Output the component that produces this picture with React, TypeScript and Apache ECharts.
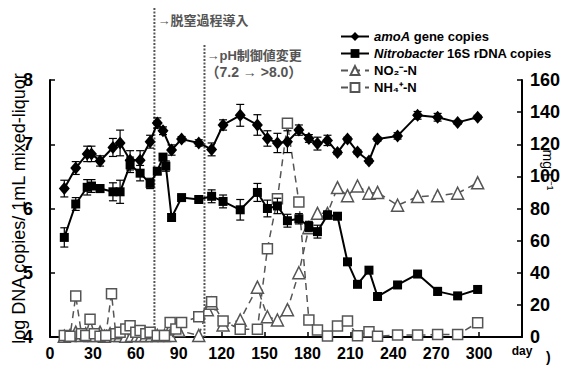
import React, { useEffect, useRef } from 'react';
import * as echarts from 'echarts';

const FONT = '"Liberation Sans", Arial, "Noto Sans CJK JP", sans-serif';

// DNA copies (log scale, left axis)
const amoADays = [10, 18, 26, 29, 35, 44, 49, 56, 63, 70, 75, 79, 85, 92, 104, 113, 121, 133, 145, 152, 159, 166, 174, 181, 187, 194, 201, 208, 215, 223, 229, 243, 257, 271, 285, 299];
const amoAValues = [6.31, 6.63, 6.85, 6.85, 6.74, 6.95, 7.02, 6.75, 6.75, 7.04, 7.33, 7.21, 6.91, 7.08, 7.02, 6.92, 7.30, 7.45, 7.30, 7.09, 7.02, 7.04, 7.22, 7.09, 7.01, 7.06, 6.87, 7.08, 6.88, 6.74, 7.08, 7.13, 7.45, 7.42, 7.34, 7.42];
const amoAErrors = [0.13, 0.1, 0.12, 0.12, 0.08, 0.14, 0.2, 0.15, 0.15, 0.1, 0.08, 0.06, 0.08, 0.04, 0.05, 0.1, 0.08, 0.17, 0.16, 0.12, 0.15, 0.17, 0.08, 0.06, 0.1, 0.08, 0.03, 0.03, 0.03, 0.03, 0.03, 0.05, 0.06, 0.06, 0.03, 0.03];

const nitroDays = [10, 18, 26, 29, 35, 44, 49, 56, 63, 70, 75, 79, 81, 85, 92, 104, 113, 121, 133, 145, 152, 159, 166, 174, 181, 187, 194, 201, 208, 215, 223, 229, 243, 257, 271, 285, 299];
const nitroValues = [5.55, 6.07, 6.33, 6.35, 6.31, 6.26, 6.26, 6.68, 6.55, 6.39, 6.58, 6.80, 6.66, 5.86, 6.17, 6.14, 6.19, 6.11, 5.98, 6.25, 6.0, 6.04, 5.81, 5.84, 5.72, 5.64, 5.90, 5.88, 5.17, 4.82, 5.04, 4.63, 4.81, 4.98, 4.71, 4.64, 4.74];
const nitroErrors = [0.15, 0.1, 0.12, 0.1, 0.06, 0.14, 0.18, 0.12, 0.12, 0.08, 0.05, 0.04, 0.08, 0.06, 0.03, 0.04, 0.1, 0.1, 0.16, 0.14, 0.13, 0.12, 0.1, 0.08, 0.08, 0.1, 0.06, 0.04, 0.03, 0.03, 0.03, 0.03, 0.03, 0.03, 0.06, 0.03, 0.04];

// Water quality (mg/L, right axis)
const no2Days = [10, 14, 18, 22, 25, 28, 31, 35, 38, 42, 46, 49, 53, 57, 61, 64, 67, 71, 75, 80, 84, 88, 90, 104, 110, 113, 121, 133, 145, 152, 159, 166, 174, 181, 187, 194, 201, 208, 215, 223, 229, 243, 257, 271, 285, 299];
const no2Values = [0.5, 1, 3, 1, 2, 1, 1, 3, 0.5, 2, 1, 1, 0.5, 1, 1, 1, 1, 1, 1, 1, 1, 5, 4, 1, 17, 21, 7.5, 10.6, 31, 12.6, 10.6, 17, 40, 68, 77, 77, 93, 88, 94, 89.5, 90, 82, 87.4, 88, 89.5, 96];

const nh4Days = [10, 14, 18, 22, 25, 28, 31, 35, 39, 43, 46, 49, 53, 56, 60, 63, 67, 70, 75, 80, 84, 88, 92, 104, 113, 121, 133, 145, 152, 159, 166, 174, 181, 187, 194, 201, 208, 215, 223, 229, 243, 257, 271, 285, 299];
const nh4Values = [1, 0.5, 25.5, 2, 1, 11, 2, 0.5, 1, 27, 2, 3, 5, 7, 3, 4, 2, 3, 1, 1, 9, 5, 9, 12.6, 22, 10, 4.8, 4.8, 55, 86, 133, 84, 10.6, 4.4, 0.6, 6.8, 10, 0.8, 3.3, 0.5, 1.2, 1.2, 1.5, 1.5, 8.9];

const phaseDays = [73, 108];
const phaseLabels = ['→脱窒過程導入', '→pH制御値変更', '（7.2 → >8.0）'];

const seriesNames = ['amoA gene copies', 'Nitrobacter 16S rDNA copies', 'NO₂⁻-N', 'NH₄⁺-N'];

const zip = (xs: number[], ys: number[]) => xs.map((x, i) => [x, ys[i]]);
const zip3 = (xs: number[], ys: number[], es: number[]) => xs.map((x, i) => [x, ys[i], es[i]]);

function errRender(params: any, api: any) {
  const x = api.value(0);
  const y = api.value(1);
  const e = api.value(2);
  const hi = api.coord([x, y + e]);
  const lo = api.coord([x, y - e]);
  const w = 4;
  const style = { stroke: '#000', lineWidth: 1.2 };
  return {
    type: 'group',
    children: [
      { type: 'line', shape: { x1: hi[0], y1: hi[1], x2: lo[0], y2: lo[1] }, style },
      { type: 'line', shape: { x1: hi[0] - w, y1: hi[1], x2: hi[0] + w, y2: hi[1] }, style },
      { type: 'line', shape: { x1: lo[0] - w, y1: lo[1], x2: lo[0] + w, y2: lo[1] }, style },
    ],
  };
}

export default function App() {
  const ref = useRef<HTMLDivElement>(null);
  useEffect(() => {
    if (!ref.current) return;
    const chart = echarts.init(ref.current, undefined, { renderer: 'svg' });
    const axisLine = { show: true, lineStyle: { color: '#000', width: 2 } };
    const axisTick = { show: true, inside: true, length: 5, lineStyle: { color: '#000', width: 1.5 } };
    chart.setOption({
      animation: false,
      backgroundColor: '#fff',
      grid: { left: 50, right: 46, top: 80, bottom: 32, containLabel: false, outerBoundsMode: 'none' },
      legend: {
        orient: 'vertical',
        left: 335,
        top: 25,
        itemWidth: 28,
        itemHeight: 11,
        itemGap: 4,
        data: seriesNames,
        formatter: (name: string) =>
          name.replace('amoA', '{i|amoA}').replace('Nitrobacter', '{i|Nitrobacter}'),
        textStyle: {
          fontWeight: 'bold',
          fontSize: 13,
          color: '#000',
          fontFamily: FONT,
          rich: { i: { fontStyle: 'italic', fontWeight: 'bold', fontSize: 13, fontFamily: FONT, color: '#000' } },
        },
      },
      xAxis: {
        type: 'value',
        min: 0,
        max: 330,
        interval: 30,
        axisLine,
        axisTick,
        splitLine: { show: false },
        axisLabel: {
          formatter: (v: number) => (v === 330 ? '{d|day}' : String(v)),
          color: '#000',
          fontWeight: 'bold',
          fontSize: 16,
          fontFamily: FONT,
          margin: 8,
          rich: { d: { fontSize: 12, fontWeight: 'bold', color: '#000', fontFamily: FONT } },
        },
      },
      yAxis: [
        {
          type: 'value',
          min: 4,
          max: 8,
          interval: 1,
          position: 'left',
          name: 'log DNA copies/ 1mL mixed-liquor',
          nameLocation: 'middle',
          nameGap: 22,
          nameRotate: 90,
          nameMoveOverlap: false,
          nameTextStyle: { fontSize: 18, color: '#000', fontFamily: FONT },
          axisLine,
          axisTick,
          splitLine: { show: false },
          axisLabel: { color: '#000', fontWeight: 'bold', fontSize: 18, fontFamily: FONT, margin: 17 },
        },
        {
          type: 'value',
          min: 0,
          max: 160,
          interval: 20,
          position: 'right',
          axisLine,
          axisTick,
          splitLine: { show: false },
          axisLabel: { color: '#000', fontWeight: 'bold', fontSize: 18, fontFamily: FONT, margin: 8 },
        },
      ],
      series: [
        {
          name: seriesNames[2],
          type: 'line',
          yAxisIndex: 1,
          data: zip(no2Days, no2Values),
          symbol: 'triangle',
          symbolSize: 12,
          itemStyle: { color: '#fff', borderColor: '#555', borderWidth: 1.5 },
          lineStyle: { color: '#555', width: 1.5, type: [7, 5] },
          z: 2,
        },
        {
          name: seriesNames[3],
          type: 'line',
          yAxisIndex: 1,
          data: zip(nh4Days, nh4Values),
          symbol: 'rect',
          symbolSize: 10,
          itemStyle: { color: '#fff', borderColor: '#555', borderWidth: 1.5 },
          lineStyle: { color: '#555', width: 1.5, type: [7, 5] },
          z: 2,
        },
        {
          type: 'custom',
          yAxisIndex: 0,
          renderItem: errRender,
          encode: { x: 0, y: 1 },
          data: zip3(nitroDays, nitroValues, nitroErrors),
          z: 4,
        },
        {
          type: 'custom',
          yAxisIndex: 0,
          renderItem: errRender,
          encode: { x: 0, y: 1 },
          data: zip3(amoADays, amoAValues, amoAErrors),
          z: 4,
        },
        {
          name: seriesNames[1],
          type: 'line',
          yAxisIndex: 0,
          data: zip(nitroDays, nitroValues),
          symbol: 'rect',
          symbolSize: 9,
          itemStyle: { color: '#000' },
          lineStyle: { color: '#000', width: 2 },
          z: 5,
        },
        {
          name: seriesNames[0],
          type: 'line',
          yAxisIndex: 0,
          data: zip(amoADays, amoAValues),
          symbol: 'diamond',
          symbolSize: [11, 13],
          itemStyle: { color: '#000' },
          lineStyle: { color: '#000', width: 2 },
          z: 5,
        },
      ],
    });

    const x1 = chart.convertToPixel({ xAxisIndex: 0 }, phaseDays[0]) as number;
    const x2 = chart.convertToPixel({ xAxisIndex: 0 }, phaseDays[1]) as number;
    const yb = chart.convertToPixel({ yAxisIndex: 0 }, 4) as number;
    const dotted = { stroke: '#555', lineWidth: 2, lineDash: [2, 1.5] };
    const txt = { fontSize: 13, fontWeight: 'bold', fill: '#555', fontFamily: FONT, verticalAlign: 'middle' };
    chart.setOption({
      graphic: [
        { type: 'line', shape: { x1: x1, y1: 8, x2: x1, y2: yb }, style: dotted, z: 1 },
        { type: 'line', shape: { x1: x2, y1: 45, x2: x2, y2: yb }, style: dotted, z: 1 },
        { type: 'text', x: x1 + 3, y: 20, style: { ...txt, text: phaseLabels[0] } },
        { type: 'text', x: x2 + 2, y: 55, style: { ...txt, text: phaseLabels[1] } },
        { type: 'text', x: x2 + 1, y: 72, style: { ...txt, fontSize: 14, text: phaseLabels[2] } },
        { type: 'text', x: 546, y: 357, style: { text: ')', fontSize: 14, fontWeight: 'bold', fill: '#000', fontFamily: FONT, verticalAlign: 'middle' } },
        {
          type: 'text',
          x: 548,
          y: 170,
          rotation: -Math.PI / 2,
          style: { text: 'mg L⁻¹', fontSize: 14, fill: '#000', fontFamily: FONT, align: 'center', verticalAlign: 'middle' },
        },
      ],
    });
    return () => chart.dispose();
  }, []);
  return <div ref={ref} style={{ position: 'fixed', left: 0, top: 0, width: 568, height: 369 }} />;
}
